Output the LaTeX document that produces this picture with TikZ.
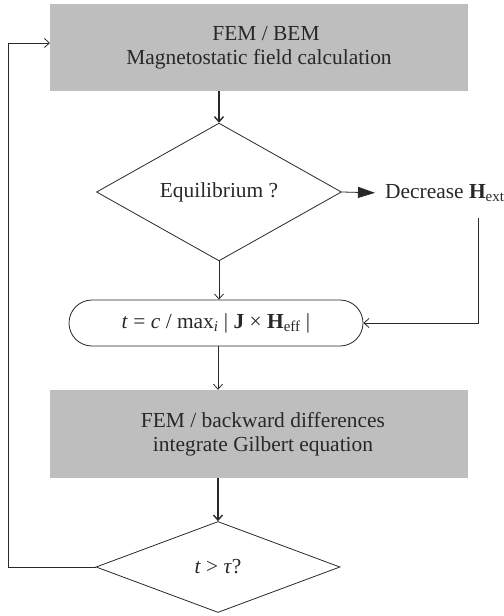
\documentclass[tikz,border=0pt]{standalone}
\usepackage{fontspec}
\setmainfont{Liberation Serif}
\usetikzlibrary{arrows.meta,shapes.geometric}
\definecolor{boxgray}{RGB}{190,190,190}
\definecolor{ink}{RGB}{40,40,40}
\begin{document}
\begin{tikzpicture}[x=1bp,y=-1bp,
  every node/.style={font=\fontsize{21.5}{24}\selectfont, text=ink},
  graybox/.style={fill=boxgray, draw=none, minimum width=418bp, align=center, inner sep=0pt},
  decision/.style={diamond, draw=ink, line width=0.8bp, inner sep=0pt},
  roundbox/.style={draw=ink, line width=0.8bp, rounded corners=23bp, minimum width=294bp, minimum height=46bp, inner sep=0pt},
  conn/.style={draw=ink, line width=0.8bp, -{Straight Barb[length=5bp,width=9bp]}},
  thick conn/.style={conn, line width=1.4bp}
]
\useasboundingbox (0,0) rectangle (504,616);
\node[graybox, minimum height=87bp] (b1) at (259,47.5) {\hspace*{14bp}FEM / BEM\\Magnetostatic field calculation};
\node[decision, minimum width=245bp, minimum height=121bp] (d1) at (219,192) {Equilibrium ?};
\node[anchor=west, inner sep=4bp] (dec) at (381,193) {Decrease \textbf{H}\textsubscript{ext}};
\node[roundbox] (rb) at (216,323) {\textit{t} = \textit{c} / max\textsubscript{\textit{i}} | \textbf{J} × \textbf{H}\textsubscript{eff} |};
\node[graybox, minimum height=88bp] (b2) at (259,434) {\hspace*{8bp}FEM / backward differences\\\hspace*{8bp}integrate Gilbert equation};
\node[decision, minimum width=244bp, minimum height=91bp] (d2) at (218,567) {\textit{t} > \textit{τ}?};
\coordinate (hx) at (478,218);
\coordinate (lb) at (8,567);
\coordinate (lt) at (8,43);
\coordinate (lin) at (50,43);
\draw[thick conn] (d1.north |- b1.south) -- (d1.north);
\draw[draw=ink, line width=0.8bp, shorten >=6bp, -{Triangle[length=17bp,width=11bp]}] (d1.east) -- (dec.west);
\draw[conn] (d1.south) -- (d1.south |- rb.north);
\draw[conn] (hx) |- (rb.east);
\draw[conn] (rb.south -| d2.north) -- (d2.north |- b2.north);
\draw[thick conn] (d2.north |- b2.south) -- (d2.north);
\draw[conn] (d2.west) -- (lb) -- (lt) -- (lin);
\end{tikzpicture}
\end{document}
